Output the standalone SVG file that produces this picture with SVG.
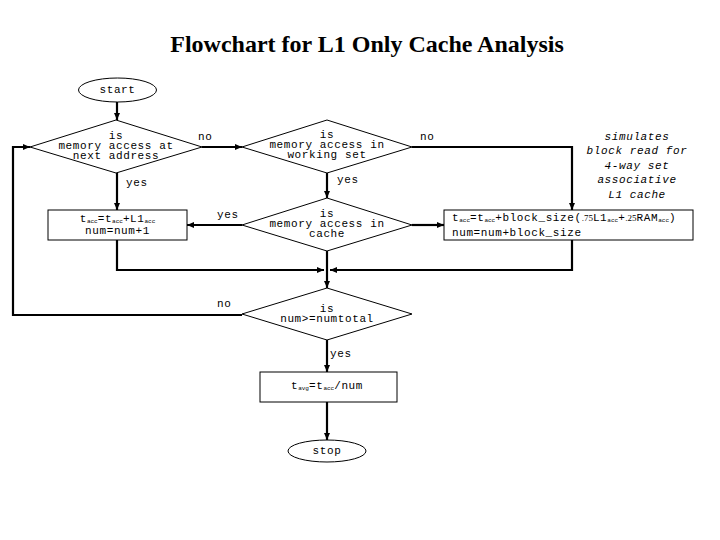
<svg xmlns="http://www.w3.org/2000/svg" width="720" height="540" viewBox="0 0 720 540">
<style>
.t{font-family:"Liberation Mono","Courier New",monospace;font-size:11px;letter-spacing:0.6px;fill:#000}
.c{text-anchor:middle}
.i{font-style:italic}
.s{font-size:6px;letter-spacing:0}
.ser{font-family:"Liberation Serif","Times New Roman",serif;font-size:9px;letter-spacing:0}
.shape{fill:#fff;stroke:#000;stroke-width:1}
.ln{fill:none;stroke:#000;stroke-width:2.2}
.title{font-family:"Liberation Serif","Times New Roman",serif;font-weight:bold;font-size:24px;text-anchor:middle}
</style>
<defs>
<marker id="ah" markerUnits="userSpaceOnUse" markerWidth="8" markerHeight="8" refX="7" refY="4" orient="auto">
<path d="M0,1 L7,4 L0,7 Z" fill="#000"/>
</marker>
</defs>
<rect width="720" height="540" fill="#fff"/>
<text class="title" x="367" y="52">Flowchart for L1 Only Cache Analysis</text>

<g id="connectors">
<line class="ln" x1="117" y1="102" x2="117" y2="120" marker-end="url(#ah)"/>
<line class="ln" x1="202" y1="147" x2="242" y2="147" marker-end="url(#ah)"/>
<line class="ln" x1="117" y1="173" x2="117" y2="210" marker-end="url(#ah)"/>
<line class="ln" x1="327" y1="173" x2="327" y2="198" marker-end="url(#ah)"/>
<line class="ln" x1="242" y1="225" x2="187" y2="225" marker-end="url(#ah)"/>
<polyline class="ln" points="412,147 572,147 572,210" marker-end="url(#ah)"/>
<line class="ln" x1="412" y1="225" x2="444" y2="225" marker-end="url(#ah)"/>
<polyline class="ln" points="117,240 117,270 324,270" marker-end="url(#ah)"/>
<polyline class="ln" points="572,240 572,270 330,270" marker-end="url(#ah)"/>
<line class="ln" x1="327" y1="251" x2="327" y2="288" marker-end="url(#ah)"/>
<polyline class="ln" points="242,315 13,315 13,147 30,147" marker-end="url(#ah)"/>
<line class="ln" x1="327" y1="340" x2="327" y2="372" marker-end="url(#ah)"/>
<line class="ln" x1="327" y1="402" x2="327" y2="440" marker-end="url(#ah)"/>
<text class="t" x="198" y="140">no</text>
<text class="t" x="126" y="186">yes</text>
<text class="t" x="420" y="140">no</text>
<text class="t" x="337" y="183">yes</text>
<text class="t" x="217" y="218">yes</text>
<text class="t" x="217" y="307">no</text>
<text class="t" x="330" y="357">yes</text>
</g>

<g id="start">
<ellipse class="shape" cx="117.5" cy="90" rx="39" ry="12"/>
<text class="t c" x="117.5" y="93">start</text>
</g>

<g id="d1">
<polygon class="shape" points="116,120 202,147 116,173 30,147"/>
<text class="t c" x="116" y="139">is</text>
<text class="t c" x="116" y="149">memory access at</text>
<text class="t c" x="116" y="159">next address</text>
</g>

<g id="d2">
<polygon class="shape" points="327,120 412,147 327,173 242,147"/>
<text class="t c" x="327" y="138">is</text>
<text class="t c" x="327" y="148">memory access in</text>
<text class="t c" x="327" y="158">working set</text>
</g>

<g id="d3">
<polygon class="shape" points="327,198 412,225 327,251 242,225"/>
<text class="t c" x="327" y="217">is</text>
<text class="t c" x="327" y="227">memory access in</text>
<text class="t c" x="327" y="237">cache</text>
</g>

<g id="box1">
<rect class="shape" x="48" y="210" width="139" height="30"/>
<text class="t c" x="117.5" y="222">t<tspan class="s" dy="1">acc</tspan><tspan dy="-1">=t</tspan><tspan class="s" dy="1">acc</tspan><tspan dy="-1">+L1</tspan><tspan class="s" dy="1">acc</tspan></text>
<text class="t c" x="117.5" y="234">num=num+1</text>
</g>

<g id="note">
<text class="t c i" x="637" y="139.5">simulates</text>
<text class="t c i" x="637" y="154">block read for</text>
<text class="t c i" x="637" y="168.5">4-way set</text>
<text class="t c i" x="637" y="183">associative</text>
<text class="t c i" x="637" y="197.5">L1 cache</text>
</g>

<g id="box2">
<rect class="shape" x="444" y="210" width="249" height="30"/>
<text class="t" x="452" y="221">t<tspan class="s" dy="1">acc</tspan><tspan dy="-1">=t</tspan><tspan class="s" dy="1">acc</tspan><tspan dy="-1">+block_size(</tspan><tspan class="ser">.75</tspan>L1<tspan class="s" dy="1">acc</tspan><tspan dy="-1">+</tspan><tspan class="ser">.25</tspan>RAM<tspan class="s" dy="1">acc</tspan><tspan dy="-1">)</tspan></text>
<text class="t" x="452" y="236">num=num+block_size</text>
</g>

<g id="d4">
<polygon class="shape" points="327,288 412,314 327,340 242,314"/>
<text class="t c" x="327" y="312">is</text>
<text class="t c" x="327" y="322">num&gt;=numtotal</text>
</g>

<g id="box3">
<rect class="shape" x="260" y="372" width="137" height="30"/>
<text class="t c" x="327" y="389">t<tspan class="s" dy="1">avg</tspan><tspan dy="-1">=t</tspan><tspan class="s" dy="1">acc</tspan><tspan dy="-1">/num</tspan></text>
</g>

<g id="stop">
<ellipse class="shape" cx="327" cy="451" rx="39" ry="11"/>
<text class="t c" x="327" y="454">stop</text>
</g>
</svg>
